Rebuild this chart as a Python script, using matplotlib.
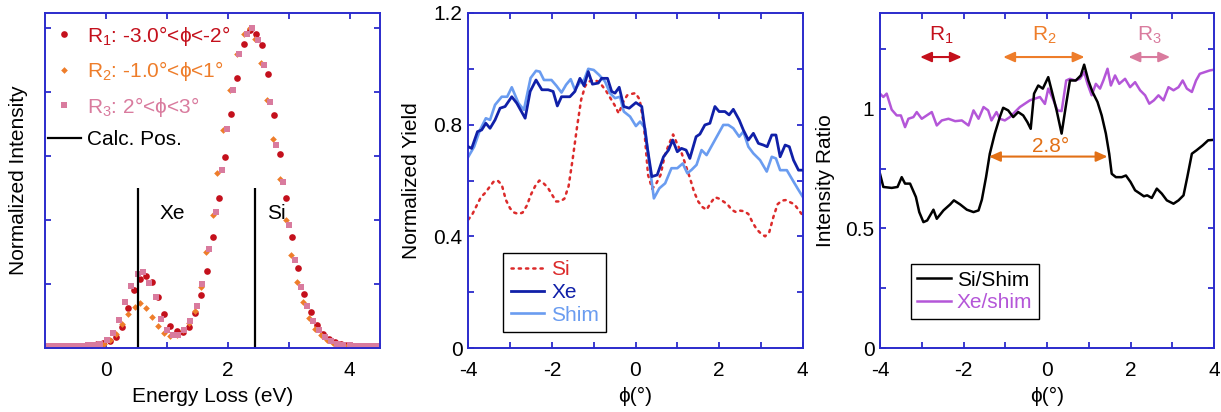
import matplotlib
matplotlib.use('Agg')
import matplotlib.pyplot as plt
from matplotlib.lines import Line2D

plt.rcParams['font.family'] = ['Liberation Sans', 'DejaVu Sans']
plt.rcParams['mathtext.fontset'] = 'custom'
plt.rcParams['mathtext.rm'] = 'Liberation Sans'
plt.rcParams['mathtext.it'] = 'Liberation Sans:italic'
plt.rcParams['mathtext.bf'] = 'Liberation Sans:bold'
plt.rcParams['font.size'] = 15

# ---------------- data: panel 1 (EELS spectra) ----------------
r1_e = [-0.94, -0.84, -0.74, -0.64, -0.54, -0.44, -0.34, -0.24, -0.14, -0.04, 0.06, 0.16,
        0.26, 0.36, 0.46, 0.56, 0.66, 0.76, 0.86, 0.96, 1.06, 1.16, 1.26, 1.36, 1.46, 1.56,
        1.66, 1.76, 1.86, 1.96, 2.06, 2.16, 2.26, 2.36, 2.46, 2.56, 2.66, 2.76, 2.86, 2.96,
        3.06, 3.16, 3.26, 3.36, 3.46, 3.56, 3.66, 3.76, 3.86, 3.96, 4.06, 4.16, 4.26, 4.36, 4.46]
r1_i = [0.004, 0.004, 0.004, 0.005, 0.005, 0.006, 0.007, 0.009, 0.012, 0.016, 0.022, 0.035,
        0.067, 0.124, 0.180, 0.215, 0.225, 0.205, 0.160, 0.106, 0.070, 0.054, 0.051, 0.067, 0.108, 0.166,
        0.240, 0.348, 0.470, 0.598, 0.730, 0.845, 0.950, 0.995, 0.980, 0.947, 0.856, 0.728, 0.605, 0.468,
        0.348, 0.249, 0.169, 0.112, 0.072, 0.045, 0.028, 0.018, 0.012, 0.008, 0.006, 0.005, 0.004, 0.004, 0.004]

r2_e = [-0.93, -0.83, -0.73, -0.63, -0.53, -0.43, -0.33, -0.23, -0.13, -0.03, 0.07, 0.17,
        0.27, 0.37, 0.47, 0.56, 0.66, 0.76, 0.86, 0.96, 1.06, 1.16, 1.26, 1.36, 1.46, 1.56,
        1.65, 1.75, 1.83, 1.93, 2.04, 2.16, 2.26, 2.36, 2.45, 2.54, 2.64, 2.75, 2.85, 2.95,
        3.04, 3.14, 3.23, 3.33, 3.43, 3.53, 3.63, 3.73, 3.83, 3.93, 4.03, 4.13, 4.23, 4.33, 4.43]
r2_i = [0.004, 0.004, 0.004, 0.004, 0.005, 0.005, 0.006, 0.008, 0.010, 0.014, 0.025, 0.045,
        0.075, 0.106, 0.127, 0.140, 0.124, 0.096, 0.069, 0.046, 0.037, 0.040, 0.055, 0.078, 0.115, 0.190,
        0.300, 0.416, 0.548, 0.680, 0.806, 0.920, 0.980, 1.000, 0.965, 0.890, 0.775, 0.652, 0.527, 0.400,
        0.290, 0.207, 0.145, 0.095, 0.060, 0.040, 0.025, 0.016, 0.010, 0.007, 0.005, 0.004, 0.004, 0.004, 0.004]

r3_e = [-0.99, -0.89, -0.79, -0.69, -0.59, -0.49, -0.39, -0.29, -0.19, -0.09, 0.01, 0.11,
        0.21, 0.31, 0.41, 0.52, 0.61, 0.71, 0.82, 0.91, 1.01, 1.10, 1.19, 1.29, 1.38, 1.49,
        1.58, 1.69, 1.80, 1.90, 1.98, 2.08, 2.19, 2.31, 2.40, 2.50, 2.60, 2.69, 2.80, 2.91,
        3.00, 3.10, 3.20, 3.30, 3.40, 3.50, 3.60, 3.70, 3.80, 3.90, 4.00, 4.10, 4.20, 4.30, 4.40, 4.50]
r3_i = [0.005, 0.005, 0.005, 0.005, 0.005, 0.006, 0.007, 0.008, 0.010, 0.014, 0.025, 0.046,
        0.087, 0.144, 0.194, 0.230, 0.236, 0.202, 0.160, 0.090, 0.056, 0.042, 0.042, 0.055, 0.084, 0.130,
        0.200, 0.310, 0.426, 0.556, 0.683, 0.806, 0.920, 0.980, 1.000, 0.963, 0.884, 0.770, 0.634, 0.520,
        0.384, 0.275, 0.190, 0.130, 0.085, 0.055, 0.035, 0.022, 0.014, 0.010, 0.008, 0.007, 0.006, 0.006, 0.005, 0.005]

calc_pos = [0.52, 2.44]
calc_height = 0.5
calc_names = ['Xe', 'Si']

# ---------------- data: panel 2 (yields) ----------------
si_phi = [-4.0, -3.9, -3.8, -3.7, -3.6, -3.5, -3.4, -3.3, -3.2, -3.1, -3.0, -2.9, -2.8, -2.7, -2.6,
          -2.5, -2.4, -2.3, -2.2, -2.1, -2.0, -1.9, -1.8, -1.7, -1.6, -1.5, -1.4, -1.3, -1.2, -1.1,
          -1.0, -0.9, -0.8, -0.7, -0.6, -0.5, -0.4, -0.3, -0.2, -0.1, 0.0, 0.1, 0.2, 0.3, 0.4,
          0.5, 0.6, 0.7, 0.8, 0.9, 1.0, 1.1, 1.2, 1.3, 1.4, 1.5, 1.6, 1.7, 1.8, 1.9,
          2.0, 2.1, 2.2, 2.3, 2.4, 2.5, 2.6, 2.7, 2.8, 2.9, 3.0, 3.1, 3.2, 3.3, 3.4,
          3.5, 3.6, 3.7, 3.8, 3.9, 4.0]
si_y = [0.46, 0.48, 0.51, 0.54, 0.555, 0.575, 0.595, 0.60, 0.585, 0.53, 0.50, 0.485, 0.48, 0.485, 0.51,
        0.55, 0.58, 0.60, 0.59, 0.575, 0.55, 0.525, 0.525, 0.535, 0.58, 0.68, 0.79, 0.89, 0.94, 0.955,
        0.96, 0.955, 0.94, 0.92, 0.895, 0.87, 0.84, 0.88, 0.905, 0.91, 0.913, 0.89, 0.80, 0.62, 0.57,
        0.59, 0.62, 0.69, 0.73, 0.765, 0.73, 0.70, 0.655, 0.61, 0.56, 0.525, 0.505, 0.495, 0.52, 0.54,
        0.535, 0.525, 0.515, 0.495, 0.487, 0.492, 0.49, 0.48, 0.45, 0.425, 0.41, 0.40, 0.415, 0.47, 0.515,
        0.528, 0.53, 0.522, 0.515, 0.495, 0.475]

xe_phi = [-4.0, -3.92, -3.78, -3.68, -3.58, -3.48, -3.36, -3.24, -3.12, -2.96, -2.84, -2.64, -2.52,
          -2.38, -2.24, -2.09, -1.97, -1.87, -1.77, -1.57, -1.45, -1.33, -1.23, -1.13, -1.03, -0.89,
          -0.81, -0.67, -0.57, -0.49, -0.39, -0.28, -0.15, 0.01, 0.15, 0.28, 0.39, 0.52, 0.67, 0.79,
          0.89, 1.0, 1.1, 1.21, 1.3, 1.45, 1.54, 1.66, 1.78, 1.9, 2.0, 2.14, 2.24, 2.34, 2.48, 2.58,
          2.7, 2.82, 2.94, 3.06, 3.15, 3.26, 3.36, 3.46, 3.58, 3.68, 3.78, 3.9, 4.0]
xe_y = [0.721, 0.715, 0.775, 0.781, 0.805, 0.787, 0.817, 0.859, 0.865, 0.90, 0.877, 0.823, 0.919,
        0.96, 0.925, 0.925, 0.919, 0.867, 0.90, 0.90, 0.919, 0.966, 0.939, 0.99, 0.945, 0.949,
        0.966, 0.966, 0.919, 0.913, 0.934, 0.865, 0.859, 0.879, 0.865, 0.721, 0.614, 0.62, 0.685, 0.709,
        0.745, 0.703, 0.715, 0.709, 0.679, 0.757, 0.766, 0.799, 0.805, 0.865, 0.847, 0.847, 0.835, 0.855, 0.817, 0.781,
        0.745, 0.769, 0.733, 0.727, 0.721, 0.763, 0.763, 0.685, 0.727, 0.721, 0.673, 0.637, 0.637]

shim_phi = [-4.0, -3.86, -3.72, -3.58, -3.48, -3.36, -3.2, -3.07, -2.96, -2.8, -2.67, -2.51, -2.38,
            -2.29, -2.19, -2.01, -1.89, -1.77, -1.66, -1.55, -1.45, -1.33, -1.23, -1.13, -1.0, -0.87,
            -0.73, -0.61, -0.49, -0.37, -0.28, -0.13, 0.01, 0.11, 0.23, 0.31, 0.44, 0.57, 0.71, 0.86,
            1.0, 1.13, 1.24, 1.34, 1.46, 1.58, 1.7, 1.9, 2.1, 2.22, 2.34, 2.48, 2.58, 2.7, 2.82,
            2.98, 3.14, 3.26, 3.36, 3.46, 3.62, 3.78, 3.9, 4.0]
shim_y = [0.685, 0.721, 0.781, 0.823, 0.817, 0.871, 0.90, 0.90, 0.934, 0.877, 0.853, 0.967, 0.993,
          0.99, 0.96, 0.96, 0.939, 0.915, 0.943, 0.963, 0.925, 0.951, 0.96, 1.0, 0.996, 0.978,
          0.955, 0.913, 0.895, 0.90, 0.847, 0.829, 0.795, 0.811, 0.787, 0.685, 0.536, 0.572, 0.59, 0.644,
          0.644, 0.661, 0.626, 0.638, 0.656, 0.709, 0.691, 0.745, 0.799, 0.799, 0.787, 0.757, 0.775, 0.721, 0.697,
          0.673, 0.632, 0.685, 0.679, 0.637, 0.637, 0.596, 0.566, 0.542]

# ---------------- data: panel 3 (ratios) ----------------
ss_phi = [-4.0, -3.92, -3.72, -3.58, -3.48, -3.4, -3.28, -3.14, -3.06, -2.96, -2.87, -2.72, -2.64,
          -2.48, -2.32, -2.23, -2.08, -1.92, -1.76, -1.64, -1.56, -1.46, -1.37, -1.25, -1.13, -1.05,
          -0.93, -0.81, -0.69, -0.57, -0.47, -0.39, -0.31, -0.21, -0.1, 0.03, 0.11, 0.23, 0.35, 0.46,
          0.55, 0.69, 0.81, 0.89, 0.99, 1.09, 1.21, 1.31, 1.41, 1.49, 1.55, 1.65, 1.79, 1.89, 2.0,
          2.11, 2.23, 2.32, 2.4, 2.51, 2.63, 2.75, 2.87, 3.03, 3.15, 3.27, 3.36, 3.47, 3.58, 3.73, 3.86, 4.0]
ss_y = [0.728, 0.673, 0.669, 0.673, 0.714, 0.687, 0.687, 0.631, 0.568, 0.526, 0.533, 0.578, 0.54,
        0.575, 0.60, 0.617, 0.60, 0.578, 0.568, 0.575, 0.62, 0.714, 0.812, 0.896, 0.965, 1.004,
        0.993, 0.965, 0.986, 0.972, 0.944, 0.916, 1.063, 1.097, 1.084, 1.132, 1.077, 0.993, 0.896, 1.021,
        1.118, 1.118, 1.139, 1.184, 1.118, 1.07, 1.028, 0.972, 0.896, 0.812, 0.728, 0.714, 0.714, 0.721, 0.694,
        0.659, 0.645, 0.634, 0.638, 0.627, 0.666, 0.645, 0.617, 0.603, 0.617, 0.638, 0.714, 0.812, 0.826, 0.847, 0.868, 0.87]

xs_phi = [-4.0, -3.92, -3.84, -3.72, -3.6, -3.5, -3.4, -3.32, -3.2, -3.12, -3.0, -2.88, -2.76, -2.64,
          -2.52, -2.36, -2.2, -2.04, -1.88, -1.76, -1.64, -1.52, -1.41, -1.33, -1.21, -1.13, -1.01,
          -0.89, -0.77, -0.65, -0.53, -0.41, -0.29, -0.17, -0.05, 0.03, 0.14, 0.25, 0.35, 0.46, 0.55,
          0.67, 0.79, 0.89, 0.97, 1.07, 1.17, 1.27, 1.35, 1.45, 1.53, 1.63, 1.73, 1.87, 1.99, 2.11,
          2.23, 2.35, 2.45, 2.56, 2.67, 2.79, 2.91, 3.03, 3.15, 3.25, 3.35, 3.47, 3.57, 3.66, 3.78, 3.9, 4.0]
xs_y = [1.063, 1.049, 1.063, 0.996, 0.972, 0.972, 0.923, 0.958, 0.965, 0.986, 0.958, 0.972, 0.986, 0.93,
        0.951, 0.958, 0.948, 0.951, 0.93, 0.993, 0.958, 1.007, 0.993, 0.951, 0.986, 0.958, 0.951,
        0.965, 0.986, 1.007, 1.021, 1.035, 1.042, 1.049, 1.02, 1.084, 1.042, 0.993, 0.99, 1.118, 1.125,
        1.118, 1.125, 1.153, 1.104, 1.056, 1.104, 1.084, 1.118, 1.167, 1.097, 1.139, 1.104, 1.125, 1.09, 1.111,
        1.077, 1.056, 1.021, 1.035, 1.056, 1.035, 1.09, 1.077, 1.09, 1.118, 1.084, 1.07, 1.118, 1.146, 1.153, 1.16, 1.163]

regions = [('R$_1$', -3.04, -2.04), ('R$_2$', -1.05, 0.9), ('R$_3$', 1.95, 2.95)]
fwhm = (-1.39, 1.45)
fwhm_label = '2.8°'

# ---------------- style ----------------
BLUE = '#2b2bcc'
C_R1 = '#c4101c'
C_R2 = '#ee7d2a'
C_R3 = '#d97b9e'
C_SI = '#dc2b2b'
C_XE = '#1020a8'
C_SHIM = '#6a9cf0'
C_PURP = '#b456d8'
C_FW = '#e27016'

fig = plt.figure(figsize=(12.21, 4.12), dpi=100)
b = 1 - 348 / 412
h = 335 / 412
ax1 = fig.add_axes([45 / 1221, b, 335 / 1221, h])
ax2 = fig.add_axes([468.3 / 1221, b, 334.4 / 1221, h])
ax3 = fig.add_axes([880 / 1221, b, 334 / 1221, h])


def style(ax):
    for s in ax.spines.values():
        s.set_color(BLUE)
        s.set_linewidth(1.4)
    ax.tick_params(direction='in', length=4, width=1.3, color=BLUE, top=True, right=True,
                   labelsize=15)
    ax.tick_params(axis='x', pad=9)
    ax.tick_params(axis='y', pad=4)


ARROW = '<|-|>,head_length=0.45,head_width=0.2'

# ---- panel 1 ----
style(ax1)
ax1.plot(r1_e, r1_i, 'o', color=C_R1, ms=4.8, mew=0, label='R$_1$: -3.0°<ϕ<-2°')
ax1.plot(r2_e, r2_i, 'D', color=C_R2, ms=3.4, mew=0, label='R$_2$: -1.0°<ϕ<1°')
ax1.plot(r3_e, r3_i, 's', color=C_R3, ms=4.8, mew=0, label='R$_3$: 2°<ϕ<3°')
for xp in calc_pos:
    ax1.vlines(xp, 0, calc_height, color='black', lw=1.6)
ax1.plot([], [], color='black', lw=1.6, label='Calc. Pos.')
ax1.text(0.885, 0.404, calc_names[0], fontsize=15, ha='left', va='baseline')
ax1.text(2.64, 0.404, calc_names[1], fontsize=15, ha='left', va='baseline')
ax1.set_xlim(-1, 4.5)
ax1.set_ylim(0, 1.047)
ax1.set_xticks([0, 1, 2, 3, 4])
ax1.set_xticklabels(['0', '', '2', '', '4'])
ax1.set_yticks([0.2, 0.4, 0.6, 0.8, 1.0])
ax1.set_yticklabels([])
ax1.set_xlabel('Energy Loss (eV)', fontsize=15)
ax1.set_ylabel('Normalized Intensity', fontsize=15)
ax1.xaxis.set_label_coords(0.5, -0.115)
ax1.yaxis.set_label_coords(-0.05, 0.5)
leg1 = ax1.legend(loc='upper left', bbox_to_anchor=(0.008, 0.968), frameon=False, fontsize=15,
                  handlelength=1.6, handletextpad=0.3, labelspacing=0.55, borderpad=0,
                  borderaxespad=0, markerscale=1.0,
                  labelcolor=[C_R1, C_R2, C_R3, 'black'])

# ---- panel 2 ----
style(ax2)
ax2.plot(si_phi, si_y, color=C_SI, lw=1.8, dashes=(0.9, 2.0), dash_capstyle='round', label='Si')
ax2.plot(shim_phi, shim_y, color=C_SHIM, lw=1.9, label='Shim', zorder=2)
ax2.plot(xe_phi, xe_y, color=C_XE, lw=2.0, label='Xe', zorder=3)
ax2.set_xlim(-4, 4)
ax2.set_ylim(0, 1.2)
ax2.set_xticks(range(-4, 5))
ax2.set_xticklabels(['-4', '', '-2', '', '0', '', '2', '', '4'])
ax2.set_yticks([0, 0.2, 0.4, 0.6, 0.8, 1.0, 1.2])
ax2.set_yticklabels(['0', '', '0.4', '', '0.8', '', '1.2'])
ax2.set_xlabel('ϕ(°)', fontsize=15)
ax2.set_ylabel('Normalized Yield', fontsize=15)
ax2.xaxis.set_label_coords(0.5, -0.115)
ax2.yaxis.set_label_coords(-0.14, 0.5)
hs = [Line2D([], [], color=C_SI, lw=1.8, dashes=(0.9, 2.0), dash_capstyle='round'),
      Line2D([], [], color=C_XE, lw=2.0),
      Line2D([], [], color=C_SHIM, lw=1.9)]
leg2 = ax2.legend(hs, ['Si', 'Xe', 'Shim'], loc='lower left', bbox_to_anchor=(0.105, 0.048),
                  borderaxespad=0, fontsize=15, fancybox=False, edgecolor='black',
                  framealpha=1, handlelength=1.6, handletextpad=0.35, labelspacing=0.18,
                  borderpad=0.35, labelcolor=[C_SI, C_XE, C_SHIM])
leg2.get_frame().set_linewidth(1.0)

# ---- panel 3 ----
style(ax3)
ax3.plot(xs_phi, xs_y, color=C_PURP, lw=1.8, label='Xe/shim')
ax3.plot(ss_phi, ss_y, color='black', lw=1.8, label='Si/Shim')
ax3.set_xlim(-4, 4)
ax3.set_ylim(0, 1.4)
ax3.set_xticks(range(-4, 5))
ax3.set_xticklabels(['-4', '', '-2', '', '0', '', '2', '', '4'])
ax3.set_yticks([0, 0.25, 0.5, 0.75, 1.0, 1.25])
ax3.set_yticklabels(['0', '', '0.5', '', '1', ''])
ax3.set_xlabel('ϕ(°)', fontsize=15)
ax3.set_ylabel('Intensity Ratio', fontsize=15)
ax3.xaxis.set_label_coords(0.5, -0.115)
ax3.yaxis.set_label_coords(-0.135, 0.5)
for (lab, x0, x1), c in zip(regions, [C_R1, C_R2, C_R3]):
    ax3.annotate('', xy=(x1, 1.216), xytext=(x0, 1.216),
                 arrowprops=dict(arrowstyle=ARROW, color=c, lw=1.5, shrinkA=0, shrinkB=0))
    ax3.text((x0 + x1) / 2, 1.285, lab, color=c, fontsize=15, ha='center', va='baseline')
ax3.annotate('', xy=(fwhm[1], 0.80), xytext=(fwhm[0], 0.80),
             arrowprops=dict(arrowstyle=ARROW, color=C_FW, lw=1.5, shrinkA=0, shrinkB=0))
ax3.text((fwhm[0] + fwhm[1]) / 2 + 0.06, 0.818, fwhm_label, color=C_FW, fontsize=15,
         ha='center', va='baseline')
hs3 = [Line2D([], [], color='black', lw=1.8), Line2D([], [], color=C_PURP, lw=1.8)]
leg3 = ax3.legend(hs3, ['Si/Shim', 'Xe/shim'], loc='lower left', bbox_to_anchor=(0.093, 0.088),
                  borderaxespad=0, fontsize=15, fancybox=False, edgecolor='black',
                  framealpha=1, handlelength=1.6, handletextpad=0.3, labelspacing=0.18,
                  borderpad=0.3, labelcolor=['black', C_PURP])
leg3.get_frame().set_linewidth(1.0)

fig.savefig('out.png', dpi=100)
